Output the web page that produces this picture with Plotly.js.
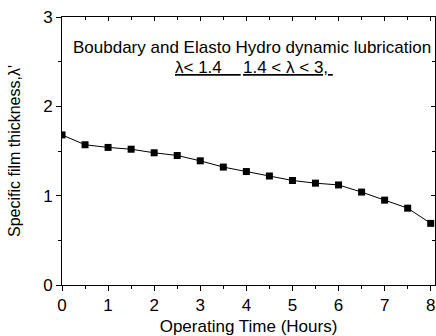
<!DOCTYPE html>
<html>
<head>
<meta charset="utf-8">
<script src="https://cdn.plot.ly/plotly-3.0.1.min.js"></script>
<style>html,body{margin:0;padding:0;background:#fff}#chart{width:436px;height:336px}</style>
</head>
<body>
<div id="chart"></div>
<script>
const hours = [0, 0.5, 1, 1.5, 2, 2.5, 3, 3.5, 4, 4.5, 5, 5.5, 6, 6.5, 7, 7.5, 8];
const thickness = [1.68, 1.57, 1.54, 1.52, 1.48, 1.45, 1.39, 1.32, 1.27, 1.22, 1.17, 1.14, 1.12, 1.04, 0.95, 0.86, 0.69];
const xTickVals = [0, 1, 2, 3, 4, 5, 6, 7, 8];
const yTickVals = [0, 1, 2, 3];

const font = {family: 'Liberation Sans, Arial, sans-serif', color: '#000'};

const traces = [
  {
    x: hours, y: thickness, type: 'scatter', mode: 'lines+markers',
    line: {color: '#000', width: 1},
    marker: {symbol: 'square', size: 7, color: '#000'},
    hoverinfo: 'x+y'
  },
  {
    x: hours, y: thickness, xaxis: 'x2', yaxis: 'y2', type: 'scatter', mode: 'markers',
    marker: {opacity: 0}, hoverinfo: 'skip', showlegend: false
  }
];

const baseAxis = {
  showgrid: false, zeroline: false, showline: true, linecolor: '#000', linewidth: 1,
  tickcolor: '#000', tickwidth: 1, ticklen: 5,
  tickfont: Object.assign({size: 17}, font)
};

const layout = {
  width: 436, height: 336,
  margin: {l: 62, r: 1, t: 17, b: 51},
  paper_bgcolor: '#fff', plot_bgcolor: '#fff',
  showlegend: false,
  font: font,
  xaxis: Object.assign({}, baseAxis, {
    range: [0, 8.093], tickvals: xTickVals, ticktext: xTickVals.map(String), ticks: 'outside',
    minor: {dtick: 0.5, ticks: 'outside', ticklen: 3, tickcolor: '#000'},
    title: {text: 'Operating Time (Hours)', font: Object.assign({size: 17}, font), standoff: 5}
  }),
  yaxis: Object.assign({}, baseAxis, {
    range: [0, 3], tickvals: yTickVals, ticktext: yTickVals.map(String), ticks: 'outside',
    minor: {dtick: 0.5, ticks: 'outside', ticklen: 3, tickcolor: '#000'},
    title: {text: "Specific film thickness,λ'", font: Object.assign({size: 16}, font), standoff: 18}
  }),
  xaxis2: Object.assign({}, baseAxis, {
    overlaying: 'x', side: 'top', matches: 'x', anchor: 'y', range: [0, 8.093],
    tickvals: xTickVals, ticks: 'inside', showticklabels: false, ticklen: 4,
    minor: {dtick: 0.5, ticks: 'inside', ticklen: 3, tickcolor: '#000'}
  }),
  yaxis2: Object.assign({}, baseAxis, {
    overlaying: 'y', side: 'right', matches: 'y', anchor: 'x', range: [0, 3],
    tickvals: yTickVals, ticks: 'inside', showticklabels: false, ticklen: 4,
    minor: {dtick: 0.5, ticks: 'inside', ticklen: 3, tickcolor: '#000'}
  }),
  annotations: [
    {xref: 'paper', yref: 'paper', x: 0.51, y: 0.886, xanchor: 'center', yanchor: 'middle',
     text: 'Boubdary and Elasto Hydro dynamic lubrication', showarrow: false,
     font: Object.assign({size: 17}, font)},
    {xref: 'paper', yref: 'paper', x: 0.298, y: 0.81, xanchor: 'left', yanchor: 'middle',
     text: '<u>λ&lt; 1.4&nbsp;&nbsp;&nbsp;&nbsp;</u>', showarrow: false,
     font: Object.assign({size: 17}, font)},
    {xref: 'paper', yref: 'paper', x: 0.48, y: 0.81, xanchor: 'left', yanchor: 'middle',
     text: '<u>1.4 &lt; λ &lt; 3,&nbsp;</u>', showarrow: false,
     font: Object.assign({size: 17}, font)}
  ]
};

Plotly.newPlot('chart', traces, layout, {displayModeBar: false, staticPlot: true});
</script>
</body>
</html>
